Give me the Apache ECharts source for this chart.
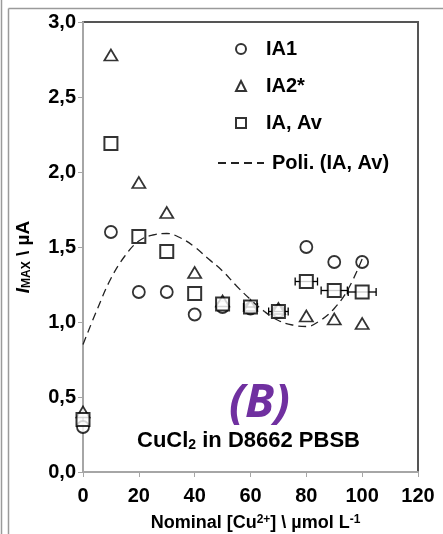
<!DOCTYPE html>
<html>
<head>
<meta charset="utf-8">
<script src="https://cdn.jsdelivr.net/npm/echarts@6/dist/echarts.min.js"></script>
<style>
  html, body { margin: 0; padding: 0; background: #fff; }
  #chart { width: 443px; height: 534px; }
</style>
</head>
<body>
<div id="chart"></div>
<script>
// Nominal copper concentration (µmol/L)
const concentrations = [0, 10, 20, 30, 40, 50, 60, 70, 80, 90, 100];
// Peak currents (µA)
const ia1 = [0.30, 1.60, 1.20, 1.20, 1.05, 1.10, 1.09, 1.07, 1.50, 1.40, 1.40];
const ia2 = [0.40, 2.78, 1.93, 1.73, 1.33, 1.14, 1.11, 1.09, 1.04, 1.02, 0.99];
const iaAv = [0.35, 2.19, 1.57, 1.47, 1.19, 1.12, 1.10, 1.07, 1.27, 1.21, 1.20];
// Horizontal uncertainty on the averaged points (µmol/L)
const iaAvXErr = [0, 0, 0, 0, 0, 0, 2.5, 3.5, 4, 4.7, 5];
// Polynomial trend of the averaged points
const trendX = [0, 5, 10, 15, 20, 25, 30, 35, 40, 45, 50, 55, 60, 65, 70, 75, 80, 85, 90, 95, 100];
const trendY = [0.85, 1.08, 1.29, 1.44, 1.54, 1.58, 1.59, 1.56, 1.50, 1.42, 1.34, 1.24, 1.15, 1.07, 1.01, 0.98, 0.97, 1.01, 1.09, 1.22, 1.42];
// Axis ticks
const yTicks = [0, 0.5, 1.0, 1.5, 2.0, 2.5, 3.0];
const xTicks = [0, 20, 40, 60, 80, 100, 120];

const FONT = '"Liberation Sans", Arial, sans-serif';
const pairs = (xs, ys) => xs.map((x, i) => [x, ys[i]]);

const chart = echarts.init(document.getElementById('chart'), null, { renderer: 'canvas' });

const markStyle = { color: '#fff', borderColor: '#000', borderWidth: 1.8 };

const option = {
  backgroundColor: '#fff',
  animation: false,
  grid: {
    left: 83, right: 25, top: 22, bottom: 62,
    outerBoundsMode: 'none', containLabel: false,
    show: true, borderColor: '#555', borderWidth: 2, backgroundColor: 'transparent'
  },
  xAxis: {
    type: 'value',
    min: xTicks[0], max: xTicks[xTicks.length - 1], interval: xTicks[1] - xTicks[0],
    splitLine: { show: false },
    axisLine: { lineStyle: { color: '#a6a6a6', width: 2 } },
    axisTick: { length: 5, lineStyle: { color: '#a6a6a6', width: 1 } },
    axisLabel: { color: '#000', fontFamily: FONT, fontWeight: 'bold', fontSize: 20, margin: 14 },
    name: 'Nominal [Cu{sup|2+}] \\ µmol L{sup|-1}',
    nameLocation: 'middle', nameGap: 42,
    nameTextStyle: {
      color: '#000', fontFamily: FONT, fontWeight: 'bold', fontSize: 18,
      padding: [0, 0, 0, 10],
      rich: { sup: { fontFamily: FONT, fontWeight: 'bold', fontSize: 12, verticalAlign: 'top', padding: [0, 0, 7, 0] } }
    }
  },
  yAxis: {
    type: 'value',
    min: yTicks[0], max: yTicks[yTicks.length - 1], interval: yTicks[1] - yTicks[0],
    splitLine: { show: false },
    axisLine: { show: true, lineStyle: { color: '#a6a6a6', width: 2 } },
    axisTick: { show: true, length: 5, lineStyle: { color: '#a6a6a6', width: 1 } },
    axisLabel: {
      color: '#000', fontFamily: FONT, fontWeight: 'bold', fontSize: 20, margin: 7,
      formatter: v => v.toFixed(1).replace('.', ',')
    },
    name: '{i|I}{sub|MAX}{n| \\ µA}',
    nameLocation: 'middle', nameGap: 50, nameRotate: 90,
    nameTextStyle: {
      padding: [0, 20, 0, 0],
      rich: {
        i: { fontFamily: FONT, fontStyle: 'italic', fontWeight: 'bold', fontSize: 19, color: '#000' },
        sub: { fontFamily: FONT, fontWeight: 'bold', fontSize: 12, color: '#000', verticalAlign: 'bottom', padding: [7, 0, 0, 0] },
        n: { fontFamily: FONT, fontWeight: 'bold', fontSize: 19, color: '#000' }
      }
    }
  },
  legend: [
    {
      data: ['IA1', 'IA2*', 'IA, Av'],
      orient: 'vertical', left: 230, top: 34,
      itemWidth: 10, itemHeight: 10, itemGap: 17,
      selectedMode: false,
      textStyle: { color: '#000', fontFamily: FONT, fontWeight: 'bold', fontSize: 20, padding: [0, 0, 0, 15] }
    },
    {
      data: ['Poli. (IA, Av)'],
      orient: 'vertical', left: 212, top: 148,
      itemWidth: 46, itemHeight: 12,
      selectedMode: false,
      itemStyle: { color: 'rgba(0,0,0,0)', borderWidth: 0 },
      textStyle: { color: '#000', fontFamily: FONT, fontWeight: 'bold', fontSize: 20, padding: [0, 0, 0, 3] }
    }
  ],
  graphic: [
    // page frame
    { type: 'line', silent: true, shape: { x1: 1.5, y1: 0, x2: 1.5, y2: 534 }, style: { stroke: '#9a9a9a', lineWidth: 1.5 } },
    { type: 'line', silent: true, shape: { x1: 8.5, y1: 8.5, x2: 8.5, y2: 534 }, style: { stroke: '#9a9a9a', lineWidth: 1.5 } },
    { type: 'line', silent: true, shape: { x1: 8.5, y1: 8.5, x2: 443, y2: 8.5 }, style: { stroke: '#9a9a9a', lineWidth: 1.5 } },
    {
      type: 'text', left: 229, top: 380, z: 10,
      style: { text: '(B)', fill: '#7030a0', font: 'italic bold 47px "Open Sans", sans-serif' }
    },
    {
      type: 'text', left: 137, top: 430, z: 10,
      style: {
        text: 'CuCl{sub|2} in D8662 PBSB',
        fill: '#000', font: 'bold 22px ' + FONT,
        rich: { sub: { font: 'bold 14px ' + FONT, verticalAlign: 'bottom', padding: [9, 0, 0, 0] } }
      }
    }
  ],
  series: [
    {
      name: 'IA1', type: 'scatter', symbol: 'circle', symbolSize: 12,
      itemStyle: markStyle, data: pairs(concentrations, ia1), z: 2
    },
    {
      name: 'IA2*', type: 'scatter', symbol: 'triangle', symbolSize: [13, 11],
      itemStyle: markStyle, data: pairs(concentrations, ia2), z: 3
    },
    {
      name: 'error', type: 'custom', z: 4,
      data: concentrations.map((x, i) => [x, iaAv[i], iaAvXErr[i]]),
      renderItem: (params, api) => {
        const e = api.value(2);
        if (!e) return null;
        const lo = api.coord([api.value(0) - e, api.value(1)]);
        const hi = api.coord([api.value(0) + e, api.value(1)]);
        const h = 4;
        const st = { stroke: '#000', lineWidth: 1.3 };
        return {
          type: 'group',
          children: [
            { type: 'line', shape: { x1: lo[0], y1: lo[1], x2: hi[0], y2: hi[1] }, style: st },
            { type: 'line', shape: { x1: lo[0], y1: lo[1] - h, x2: lo[0], y2: lo[1] + h }, style: st },
            { type: 'line', shape: { x1: hi[0], y1: hi[1] - h, x2: hi[0], y2: hi[1] + h }, style: st }
          ]
        };
      }
    },
    {
      name: 'IA, Av', type: 'scatter', symbol: 'rect', symbolSize: 13,
      itemStyle: { color: '#fff', borderColor: '#000', borderWidth: 2 },
      data: pairs(concentrations, iaAv), z: 5
    },
    {
      name: 'Poli. (IA, Av)', type: 'line', smooth: 0.4, symbol: 'none', showSymbol: false,
      lineStyle: { color: '#222', width: 1.3, type: [8, 5] },
      itemStyle: { color: '#222' },
      data: pairs(trendX, trendY), z: 6
    }
  ]
};

chart.setOption(option);
</script>
</body>
</html>
